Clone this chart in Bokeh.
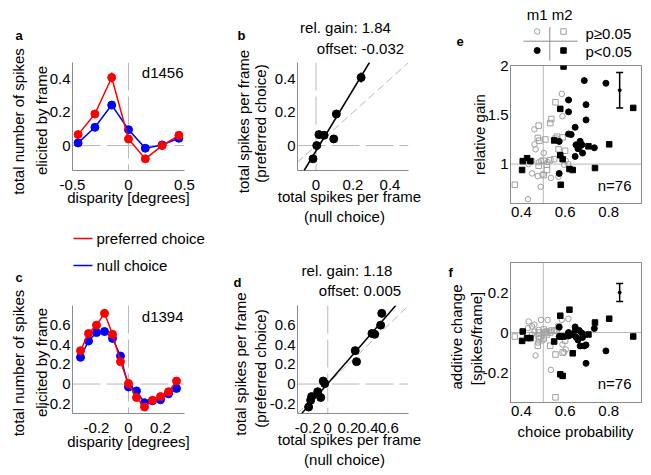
import numpy as np
from bokeh.plotting import figure
from bokeh.layouts import row, column
from bokeh.models import (Range1d, FixedTicker, Label, Slope, Span, GridBox,
                          Whisker, TeeHead, ColumnDataSource)
from bokeh.embed import file_html
from bokeh.resources import INLINE

# ---------------- data ----------------
# panel a (cell d1456)
disp_a = [-0.45, -0.30, -0.15, 0.0, 0.15, 0.30, 0.45]
pref_a = [0.066, 0.19, 0.41, 0.04, -0.08, 0.0, 0.062]
null_a = [0.016, 0.11, 0.244, 0.096, -0.016, 0.004, 0.044]
pref_a_err = [0.02, 0.02, 0.03, 0.02, 0.015, 0.02, 0.02]
null_a_err = [0.012, 0.012, 0.025, 0.012, 0.01, 0.012, 0.012]
gain_b, offset_b = 1.84, -0.032

# panel c (cell d1394)
disp_c = [-0.30, -0.25, -0.20, -0.15, -0.10, -0.05, 0.0, 0.05, 0.10, 0.15, 0.20, 0.25, 0.30]
pref_c = [0.34, 0.515, 0.60, 0.72, 0.507, 0.228, 0.005, -0.137, -0.234, -0.166, -0.128, -0.078, 0.03]
null_c = [0.272, 0.438, 0.524, 0.535, 0.465, 0.285, -0.03, -0.07, -0.19, -0.17, -0.16, -0.10, -0.045]
pref_c_err = [0.04, 0.035, 0.035, 0.04, 0.035, 0.035, 0.03, 0.03, 0.035, 0.03, 0.03, 0.03, 0.035]
null_c_err = [0.035, 0.03, 0.03, 0.03, 0.03, 0.03, 0.025, 0.025, 0.03, 0.025, 0.025, 0.025, 0.03]
gain_d, offset_d = 1.18, 0.005

# panels e/f: population (n=76)
cp_m1_sig = [0.573, 0.573, 0.616, 0.616, 0.616, 0.628, 0.646, 0.646, 0.650, 0.659, 0.665, 0.669,
             0.677, 0.680, 0.688, 0.696, 0.696, 0.734, 0.787]
gain_m1_sig = [1.23, 0.905, 1.65, 1.53, 1.305, 1.30, 1.373, 1.078, 1.195, 1.156, 1.172, 1.231,
               1.195, 1.112, 1.847, 1.603, 1.448, 1.165, 1.82]
add_m1_sig = [0.027, -0.02, 0.0, -0.017, -0.003, -0.012, 0.028, 0.01, -0.023, -0.037, 0.01, -0.067,
              -0.003, -0.025, -0.067, -0.154, -0.062, 0.02, -0.092]

cp_m2_sig = [0.403, 0.406, 0.426, 0.441, 0.550, 0.578, 0.578, 0.580, 0.589, 0.593, 0.620, 0.635,
             0.707, 0.737, 0.802, 0.912]
gain_m2_sig = [0.94, 1.03, 1.06, 1.03, 1.24, 1.56, 1.09, 0.79, 1.05, 1.99, 0.95, 0.94,
               1.18, 0.96, 1.20, 1.57]
add_m2_sig = [-0.042, 0.005, -0.028, -0.028, -0.045, 0.084, -0.209, -0.02, -0.217, -0.02, 0.114, -0.104,
              -0.01, 0.05, 0.069, -0.02]

cp_m1_ns = [0.585, 0.588, 0.459, 0.465, 0.502, 0.449, 0.479, 0.490, 0.433, 0.603, 0.615, 0.596,
            0.449, 0.475, 0.497, 0.570, 0.488, 0.430, 0.460, 0.520, 0.535]
gain_m1_ns = [1.712, 1.485, 1.352, 1.15, 1.112, 1.034, 1.017, 1.034, 1.00, 1.034, 1.00, 0.993,
              0.905, 0.878, 0.895, 0.871, 0.769, 0.644, 1.20, 1.02, 0.86]
add_m1_ns = [0.063, -0.06, 0.04, -0.115, 0.0, 0.03, 0.013, 0.063, 0.055, -0.085, 0.068, -0.10,
             -0.01, -0.05, -0.04, 0.02, -0.025, 0.022, 0.005, 0.063, -0.187]

cp_m2_ns = [0.556, 0.537, 0.532, 0.479, 0.475, 0.482, 0.510, 0.556, 0.563, 0.589, 0.570, 0.600,
            0.502, 0.532, 0.517, 0.479, 0.517, 0.502, 0.370, 0.550]
gain_m2_ns = [1.627, 1.457, 1.416, 1.39, 1.265, 1.237, 1.25, 1.258, 1.278, 1.27, 1.15, 1.135,
              1.034, 1.04, 0.993, 0.983, 0.939, 0.888, 0.79, 1.05]
add_m2_ns = [-0.324, 0.01, 0.0, -0.02, -0.066, -0.033, 0.0, -0.11, 0.01, -0.10, 0.03, -0.04,
             0.015, -0.066, -0.01, 0.0, 0.005, -0.03, -0.02, 0.008]

# representative error bars in e and f
err_cp = [0.85]
err_e_mid, err_e_lo, err_e_hi = [1.75], [1.57], [1.93]
err_f_mid, err_f_lo, err_f_hi = [0.20], [0.155], [0.245]

# tick labels
ticks_a_x, labels_a_x = [-0.5, 0, 0.5], ["-0.5", "0", "0.5"]
ticks_a_y, labels_a_y = [0, 0.2, 0.4], ["0", "0.2", "0.4"]
ticks_b_x, labels_b_x = [0, 0.2, 0.4], ["0", "0.2", "0.4"]
ticks_c_x, labels_c_x = [-0.2, 0, 0.2], ["-0.2", "0", "0.2"]
ticks_c_y, labels_c_y = [-0.2, 0, 0.2, 0.4, 0.6], ["-0.2", "0", "0.2", "0.4", "0.6"]
ticks_d_x, labels_d_x = [-0.2, 0, 0.2, 0.4, 0.6], ["-0.2", "0", "0.2", "0.4", "0.6"]
ticks_e_x, labels_e_x = [0.4, 0.6, 0.8], ["0.4", "0.6", "0.8"]
ticks_e_y, labels_e_y = [1, 1.5, 2], ["1", "1.5", "2"]
ticks_f_y, labels_f_y = [-0.2, 0, 0.2], ["-0.2", "0", "0.2"]

# ---------------- style ----------------
FONT = "Liberation Sans"
FS = "15px"
AXC = "#8a8a8a"
REFC = "#b8b8b8"
OPENC = "#a0a0a0"
RED = "#ff0000"
BLUE = "#0000ff"
TOTAL_W, TOTAL_H = 648, 472


def make_fig(w, h, bl, br, bt, bb, xr, yr, xt, xtl, yt, ytl, box=False, xstand=9, ystand=2):
    p = figure(width=w, height=h, x_range=Range1d(*xr), y_range=Range1d(*yr),
               output_backend="svg", toolbar_location=None,
               min_border_left=bl, min_border_right=br, min_border_top=bt, min_border_bottom=bb)
    p.grid.visible = False
    p.outline_line_color = AXC if box else None
    for ax, ticks, labels, st in ((p.xaxis[0], xt, xtl, xstand), (p.yaxis[0], yt, ytl, ystand)):
        ax.ticker = FixedTicker(ticks=ticks)
        ax.major_label_overrides = dict(zip(ticks, labels))
        ax.axis_line_color = AXC
        ax.axis_line_width = 1
        ax.major_tick_line_color = None
        ax.minor_tick_line_color = None
        ax.major_tick_out = 0
        ax.major_tick_in = 0
        ax.major_label_standoff = st
        ax.major_label_text_font = FONT
        ax.major_label_text_font_size = FS
        ax.major_label_text_color = "black"
    return p


def refs(p, xloc, yloc, dash):
    p.add_layout(Span(location=xloc, dimension="height", line_color=REFC, line_width=1,
                      line_dash=dash, level="underlay"))
    p.add_layout(Span(location=yloc, dimension="width", line_color=REFC, line_width=1,
                      line_dash=dash, level="underlay"))


def tuning(p, disp, pref, perr, null, nerr):
    d = np.array(disp)
    for vals, errs, col in ((null, nerr, BLUE), (pref, perr, RED)):
        v, e = np.array(vals), np.array(errs)
        p.segment(x0=d, y0=v - e, x1=d, y1=v + e, line_color=col, line_width=1.5)
        p.line(d, v, line_color=col, line_width=1.5)
        p.scatter(d, v, marker="circle", size=8, fill_color=col, line_color=col)


def scatter_pair(p, null, pref, perr, gain, off):
    p.add_layout(Slope(gradient=1, y_intercept=0, line_color=REFC, line_width=1,
                       line_dash="8 4", level="underlay"))
    x, y, e = np.array(null), np.array(pref), np.array(perr)
    p.segment(x0=x, y0=y - e, x1=x, y1=y + e, line_color="black", line_width=1.5)
    p.scatter(x, y, marker="circle", size=8, fill_color="black", line_color="black")
    p.add_layout(Slope(gradient=gain, y_intercept=off, line_color="black", line_width=1.5))


def population(p, ys):
    p.scatter(cp_m1_ns, ys[0], marker="circle", size=5.5, fill_color=None, line_color=OPENC, line_width=1)
    p.scatter(cp_m2_ns, ys[1], marker="square", size=5.5, fill_color=None, line_color=OPENC, line_width=1)
    p.scatter(cp_m1_sig, ys[2], marker="circle", size=6, fill_color="black", line_color="black")
    p.scatter(cp_m2_sig, ys[3], marker="square", size=5.5, fill_color="black", line_color="black")


def errbar(p, mid, lo, hi):
    src = ColumnDataSource(dict(base=err_cp, lower=lo, upper=hi))
    p.add_layout(Whisker(base="base", lower="lower", upper="upper", source=src, dimension="height",
                         line_color="black", line_width=1.5,
                         upper_head=TeeHead(size=7, line_color="black", line_width=1.5),
                         lower_head=TeeHead(size=7, line_color="black", line_width=1.5)))
    p.scatter(err_cp, mid, marker="circle", size=3, color="black")


# ---------------- panels ----------------
pa = make_fig(228, 226, 72, 44, 62, 56, (-0.5, 0.5), (-0.15, 0.5),
              ticks_a_x, labels_a_x, ticks_a_y, labels_a_y)
refs(pa, 0, 0, "28 6")
tuning(pa, disp_a, pref_a, pref_a_err, null_a, null_a_err)

pb = make_fig(207, 226, 69, 27, 62, 56, (-0.1, 0.5), (-0.15, 0.5),
              ticks_b_x, labels_b_x, ticks_a_y, labels_a_y)
refs(pb, 0, 0, "28 6")
scatter_pair(pb, null_a, pref_a, pref_a_err, gain_b, offset_b)

pc = make_fig(228, TOTAL_H - 226, 72, 44, 79, TOTAL_H - 413, (-0.35, 0.35), (-0.3, 0.8),
              ticks_c_x, labels_c_x, ticks_c_y, labels_c_y)
refs(pc, 0, 0, "28 6")
tuning(pc, disp_c, pref_c, pref_c_err, null_c, null_c_err)

pd = make_fig(207, TOTAL_H - 226, 69, 27, 79, TOTAL_H - 413, (-0.3, 0.8), (-0.3, 0.8),
              ticks_d_x, labels_d_x, ticks_c_y, labels_c_y)
refs(pd, 0, 0, "28 6")
scatter_pair(pd, null_c, pref_c, pref_c_err, gain_d, offset_d)

W3 = TOTAL_W - 435
pe = make_fig(W3, 232, 75, W3 - 75 - 131, 65, 29, (0.35, 0.95), (0.6, 2.0),
              ticks_e_x, labels_e_x, ticks_e_y, labels_e_y, box=True, xstand=3, ystand=2)
refs(pe, 0.5, 1.0, "solid")
population(pe, (gain_m1_ns, gain_m2_ns, gain_m1_sig, gain_m2_sig))
errbar(pe, err_e_mid, err_e_lo, err_e_hi)

pf = make_fig(W3, TOTAL_H - 232, 75, W3 - 75 - 131, 30, TOTAL_H - 402, (0.35, 0.95), (-0.35, 0.35),
              ticks_e_x, labels_e_x, ticks_f_y, labels_f_y, box=True, xstand=3, ystand=2)
refs(pf, 0.5, 0.0, "solid")
population(pf, (add_m1_ns, add_m2_ns, add_m1_sig, add_m2_sig))
errbar(pf, err_f_mid, err_f_lo, err_f_hi)

panels = row(column(pa, pc), column(pb, pd), column(pe, pf))

# ---------------- transparent overlay for texts and legend keys (page pixels) ----------------
ov = figure(width=TOTAL_W, height=TOTAL_H, x_range=Range1d(0, TOTAL_W), y_range=Range1d(TOTAL_H, 0),
            x_axis_type=None, y_axis_type=None, output_backend="svg", toolbar_location=None,
            min_border=0, background_fill_color=None, border_fill_color=None)
ov.grid.visible = False
ov.outline_line_color = None


def txt(X, Y, s, align="center", baseline="middle", angle=0.0, size=FS, bold=False):
    ov.add_layout(Label(x=X, y=Y, text=s, text_align=align, text_baseline=baseline, angle=angle,
                        text_font=FONT, text_font_size=size,
                        text_font_style="bold" if bold else "normal", text_color="black"))


V = np.pi / 2
# panel a
txt(15, 35, "a", align="left", baseline="alphabetic", size="13px", bold=True)
txt(17.5, 121, "total number of spikes", angle=V)
txt(41, 120, "elicited by frame", angle=V)
txt(128, 197, "disparity [degrees]")
txt(183, 72, "d1456", align="right")
# panel b
txt(237, 35, "b", align="left", baseline="alphabetic", size="13px", bold=True)
txt(345, 27, f"rel. gain: {gain_b:.2f}")
txt(360, 48, f"offset: {offset_b:.3f}")
txt(242.5, 121, "total spikes per frame", angle=V)
txt(260, 123, "(preferred choice)", angle=V)
txt(349, 195.5, "total spikes per frame")
txt(344, 215.5, "(null choice)")
# legend between a and c
ov.segment(x0=[73, 73], y0=[238, 265], x1=[92, 92], y1=[238, 265], line_color=[RED, BLUE], line_width=1.5)
txt(96, 238, "preferred choice", align="left")
txt(96, 265, "null choice", align="left")
# panel c
txt(15, 277, "c", align="left", baseline="alphabetic", size="13px", bold=True)
txt(17.5, 362.5, "total number of spikes", angle=V)
txt(41, 362, "elicited by frame", angle=V)
txt(128, 441, "disparity [degrees]")
txt(183, 315.5, "d1394", align="right")
# panel d
txt(233, 282, "d", align="left", baseline="alphabetic", size="13px", bold=True)
txt(346.5, 269.5, f"rel. gain: {gain_d:.2f}")
txt(359.5, 290, f"offset: {offset_d:.3f}")
txt(239.5, 363.5, "total spikes per frame", angle=V)
txt(260, 368, "(preferred choice)", angle=V)
txt(349, 438.5, "total spikes per frame")
txt(344, 458.5, "(null choice)")
# panel e legend
txt(456, 41, "e", align="left", baseline="alphabetic", size="13px", bold=True)
txt(549.2, 14.2, "m1 m2")
ov.segment(x0=[523, 549.3], y0=[40.7, 26.7], x1=[577, 549.3], y1=[40.7, 60], line_color=AXC, line_width=1)
ov.scatter([536.7], [31], marker="circle", size=5.5, fill_color=None, line_color=OPENC)
ov.scatter([563], [31], marker="square", size=5.5, fill_color=None, line_color=OPENC)
ov.scatter([536.7], [50], marker="circle", size=6, color="black")
ov.scatter([563], [50], marker="square", size=5.5, color="black")
txt(585, 32.8, "p\u22650.05", align="left")
txt(585, 50.5, "p<0.05", align="left")
txt(479, 134, "relative gain", angle=V)
txt(631, 184.5, "n=76", align="right")
# panel f
txt(448, 272, "f", align="left", baseline="alphabetic", size="13px", bold=True)
txt(455.5, 336.5, "additive change", angle=V)
txt(476, 338, "[spikes/frame]", angle=V)
txt(575, 431, "choice probability")
txt(631, 383, "n=76", align="right")

layout = GridBox(children=[(panels, 0, 0), (ov, 0, 0)])
open("out.html", "w").write(file_html(layout, INLINE))
